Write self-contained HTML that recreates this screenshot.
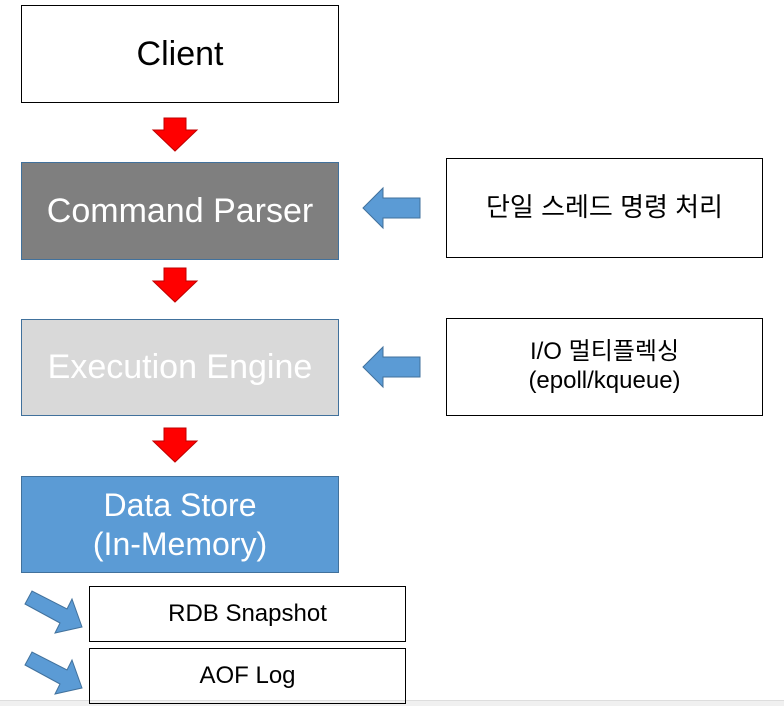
<!DOCTYPE html>
<html><head><meta charset="utf-8"><style>
body{margin:0;width:784px;height:705px;background:#fff;position:relative;overflow:hidden;font-family:"Liberation Sans","Noto Sans CJK KR",sans-serif}
.b{position:absolute;box-sizing:border-box;display:flex;align-items:center;justify-content:center;text-align:center;line-height:1.2}
svg{position:absolute;left:0;top:0}
</style></head><body>
<div style="position:absolute;left:0;top:700px;width:784px;height:5px;background:#f0f0f0;border-top:1px solid #ddd"></div>
<div class="b" style="left:21px;top:5px;width:318px;height:98px;border:1px solid #000;font-size:34px">Client</div>
<div class="b" style="left:21px;top:162px;width:318px;height:98px;background:#7f7f7f;border:1px solid #41719c;color:#fff;font-size:34px">Command Parser</div>
<div class="b" style="left:21px;top:319px;width:318px;height:97px;background:#d9d9d9;border:1px solid #41719c;color:#fff;font-size:34px">Execution Engine</div>
<div class="b" style="left:21px;top:476px;width:318px;height:97px;background:#5b9bd5;border:1px solid #41719c;color:#fff;font-size:32px">Data Store<br>(In-Memory)</div>
<div class="b" style="left:89px;top:586px;width:317px;height:56px;border:1px solid #000;font-size:24px">RDB Snapshot</div>
<div class="b" style="left:89px;top:648px;width:317px;height:56px;border:1px solid #000;font-size:24px">AOF Log</div>
<div class="b" style="left:446px;top:158px;width:317px;height:100px;border:1px solid #000;font-size:26px">단일 스레드 명령 처리</div>
<div class="b" style="left:446px;top:318px;width:317px;height:98px;border:1px solid #000;font-size:24px">I/O 멀티플렉싱<br>(epoll/kqueue)</div>
<svg width="784" height="705">
<g fill="#ff0000" stroke="#c00000" stroke-width="1">
<polygon points="164,118 186,118 186,130 197,130 175,151 153,130 164,130"/>
<polygon points="164,268 186,268 186,281 197,281 175,302 153,281 164,281"/>
<polygon points="164,428 186,428 186,441 197,441 175,462 153,441 164,441"/>
</g>
<g fill="#5b9bd5" stroke="#41719c" stroke-width="1">
<polygon points="420,198 383,198 383,188 363,208 383,228 383,218 420,218"/>
<polygon points="420,357 383,357 383,347 363,367 383,387 383,377 420,377"/>
<polygon points="25,604 32,591 67,609 72,599 82,627 55,633 60,623"/>
<polygon points="25,665 32,652 67,670 72,660 82,688 55,694 60,684"/>
</g>
</svg>
</body></html>
